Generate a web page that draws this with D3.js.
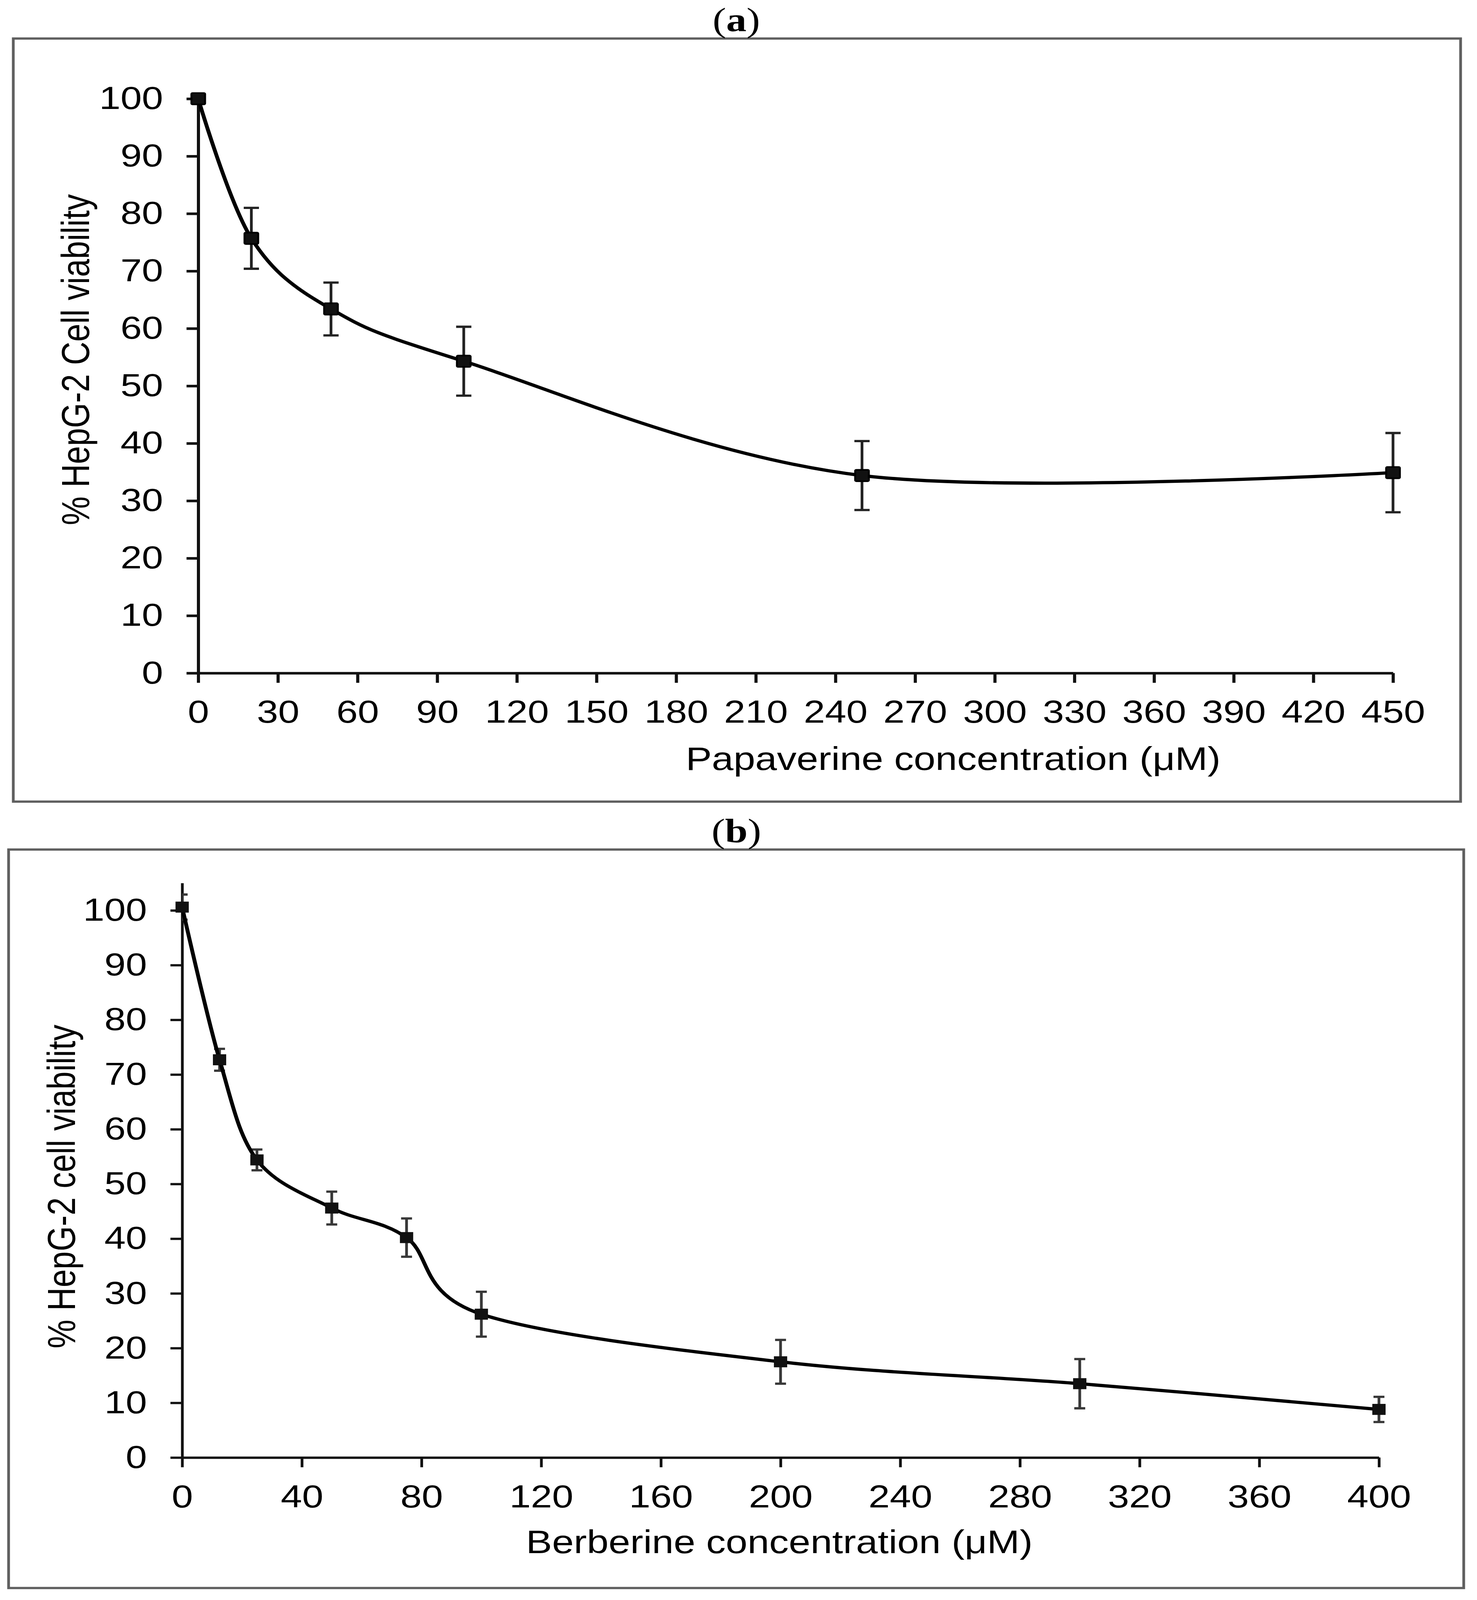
<!DOCTYPE html>
<html>
<head>
<meta charset="utf-8">
<script src="https://cdn.jsdelivr.net/npm/d3@7"></script>
<style>
  html, body { margin: 0; padding: 0; width: 100%; height: 100%; overflow: hidden; background: #fff; }
  svg { display: block; width: 100vw; height: 100vh; }
</style>
</head>
<body>
<svg id="chart" viewBox="0 0 3781 4942" preserveAspectRatio="none"></svg>
<script>
// ---- data: (a) papaverine ----
const papConc = [0, 20, 50, 100, 250, 450];
const papViab = [100, 75.7, 63.4, 54.3, 34.4, 34.9];
const papErr = [0, 5.3, 4.6, 6.0, 6.0, 6.9];
const papXTicks = [0, 30, 60, 90, 120, 150, 180, 210, 240, 270, 300, 330, 360, 390, 420, 450];

// ---- data: (b) berberine ----
const berConc = [0, 12.5, 25, 50, 75, 100, 200, 300, 400];
const berViab = [100.6, 72.7, 54.4, 45.6, 40.2, 26.2, 17.5, 13.5, 8.8];
const berErr = [2.3, 2.0, 1.9, 3.0, 3.5, 4.1, 4.0, 4.5, 2.3];
const berXTicks = [0, 40, 80, 120, 160, 200, 240, 280, 320, 360, 400];

const yTicks = [0, 10, 20, 30, 40, 50, 60, 70, 80, 90, 100];

const svg = d3.select("#chart");
svg.append("rect").attr("width", 3781).attr("height", 4942).attr("fill", "#fff");

const SANS = "'Liberation Sans', Arial, sans-serif";
const SERIF = "'Liberation Serif', 'Times New Roman', serif";

// panel layouts (pixel geometry of the two framed charts)
const panels = [
    {
        id: "a", letter: "a", titleY: 96,
        frame: [34, 119, 3739, 2476],
        x0: 507.5, x1: 3566, xMax: 450,
        y0: 2079, yTop: 305, yMax: 100,
        xTicks: papXTicks,
        conc: papConc, viab: papViab, err: papErr,
        axisW: 8, errColor: "#222", capW: 39,
        marker: 35, markerStroke: 5,
        xTitle: "Papaverine concentration (\u03bcM)", xtX: 2440, xtY: 2378,
        yTitle: "% HepG-2 Cell viability", ytX: 228, ytY: 1111
    },
    {
        id: "b", letter: "b", titleY: 2601,
        frame: [22, 2624, 3747, 4905],
        x0: 466.3, x1: 3530, xMax: 400,
        y0: 4502, yTop: 2727.5, yMax: 105,
        xTicks: berXTicks,
        conc: berConc, viab: berViab, err: berErr,
        axisW: 7, errColor: "#383838", capW: 28,
        marker: 34, markerStroke: 0,
        xTitle: "Berberine concentration (\u03bcM)", xtX: 1995, xtY: 4797,
        yTitle: "% HepG-2 cell viability", ytX: 192, ytY: 3665
    }
];

function styleAxis(sel, w) {
    sel.attr("font-size", 98).attr("font-family", SANS);
    sel.select(".domain").attr("stroke", "#111").attr("stroke-width", w);
    sel.selectAll(".tick line").attr("stroke", "#111").attr("stroke-width", w);
    sel.selectAll(".tick text").attr("fill", "#000");
}

function drawPanel(p) {
    const g = svg.append("g").attr("class", "panel-" + p.id);

    // outer frame
    g.append("rect")
        .attr("x", p.frame[0]).attr("y", p.frame[1])
        .attr("width", p.frame[2] - p.frame[0])
        .attr("height", p.frame[3] - p.frame[1])
        .attr("fill", "none")
        .attr("stroke", "#5f5f5f")
        .attr("stroke-width", 7);

    // panel letter
    const t = g.append("text")
        .attr("x", 1885).attr("y", p.titleY)
        .attr("text-anchor", "middle")
        .attr("font-family", SERIF)
        .attr("font-size", 104)
        .attr("fill", "#000");
    t.append("tspan").text("(");
    t.append("tspan").attr("font-weight", "bold").text(p.letter);
    t.append("tspan").text(")");

    const x = d3.scaleLinear().domain([0, p.xMax]).range([p.x0, p.x1]);
    const y = d3.scaleLinear().domain([0, p.yMax]).range([p.y0, p.yTop]);

    // axes
    g.append("g")
        .attr("transform", `translate(0,${p.y0})`)
        .call(d3.axisBottom(x).tickValues(p.xTicks).tickSize(30).tickSizeOuter(0).tickPadding(54).tickFormat(d3.format("d")))
        .call(styleAxis, p.axisW);

    g.append("g")
        .attr("transform", `translate(${p.x0},0)`)
        .call(d3.axisLeft(y).tickValues(yTicks).tickSize(30).tickSizeOuter(0).tickPadding(60).tickFormat(d3.format("d")))
        .call(styleAxis, p.axisW);

    // axis titles
    g.append("text")
        .attr("x", p.xtX).attr("y", p.xtY)
        .attr("text-anchor", "middle")
        .attr("font-family", SANS).attr("font-size", 100)
        .attr("fill", "#000")
        .text(p.xTitle);

    // rotated title: baseline sits at ytX
    g.append("text")
        .attr("transform", `translate(${p.ytX},${p.ytY}) rotate(-90)`)
        .attr("text-anchor", "middle")
        .attr("font-family", SANS).attr("font-size", 100)
        .attr("fill", "#000")
        .text(p.yTitle);

    const pts = p.conc.map((c, i) => ({ c: c, v: p.viab[i], e: p.err[i] }));

    // error bars, clipped to the plot area like the spreadsheet does
    const clipId = "clip-" + p.id;
    g.append("clipPath").attr("id", clipId)
        .append("rect")
        .attr("x", p.x0).attr("y", p.frame[1])
        .attr("width", p.frame[2] - p.x0)
        .attr("height", p.y0 - p.frame[1]);

    const eb = g.append("g")
        .attr("clip-path", `url(#${clipId})`)
        .attr("stroke", p.errColor)
        .attr("stroke-width", 7)
        .selectAll("g")
        .data(pts.filter((d) => d.e > 0))
        .enter()
        .append("g");

    eb.append("line")
        .attr("x1", (d) => x(d.c)).attr("x2", (d) => x(d.c))
        .attr("y1", (d) => y(d.v + d.e)).attr("y2", (d) => y(d.v - d.e));
    eb.append("line")
        .attr("x1", (d) => x(d.c) - p.capW / 2).attr("x2", (d) => x(d.c) + p.capW / 2)
        .attr("y1", (d) => y(d.v + d.e)).attr("y2", (d) => y(d.v + d.e));
    eb.append("line")
        .attr("x1", (d) => x(d.c) - p.capW / 2).attr("x2", (d) => x(d.c) + p.capW / 2)
        .attr("y1", (d) => y(d.v - d.e)).attr("y2", (d) => y(d.v - d.e));

    // smoothed line
    const line = d3.line()
        .x((d) => x(d.c))
        .y((d) => y(d.v))
        .curve(d3.curveCardinal.tension(0));

    g.append("path")
        .datum(pts)
        .attr("d", line)
        .attr("fill", "none")
        .attr("stroke", "#000")
        .attr("stroke-width", 10);

    // square markers
    g.append("g")
        .selectAll("rect")
        .data(pts)
        .enter()
        .append("rect")
        .attr("x", (d) => x(d.c) - p.marker / 2)
        .attr("y", (d) => y(d.v) - p.marker / 2)
        .attr("width", p.marker)
        .attr("height", p.marker)
        .attr("rx", p.markerStroke ? 3 : 0)
        .attr("fill", "#111")
        .attr("stroke", p.markerStroke ? "#000" : "none")
        .attr("stroke-width", p.markerStroke);
}

panels.forEach(drawPanel);
</script>
</body>
</html>
